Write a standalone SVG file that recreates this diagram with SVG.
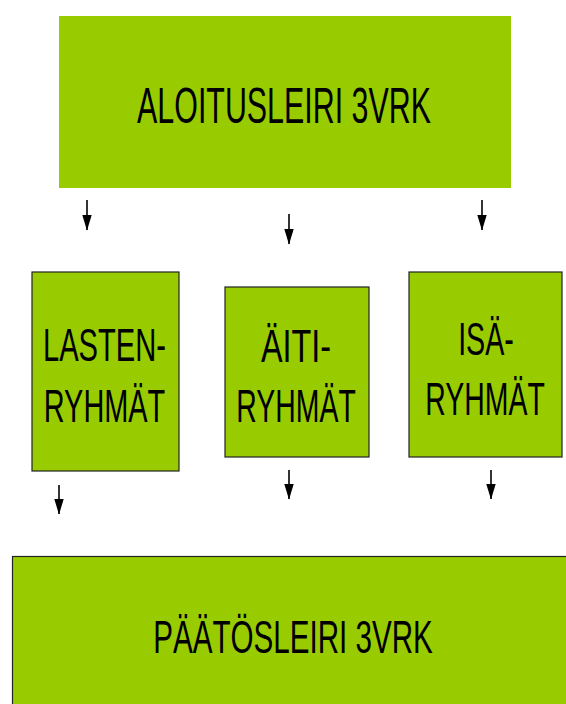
<svg xmlns="http://www.w3.org/2000/svg" width="566" height="704" viewBox="0 0 566 704">
<style>
.box{fill:#99CC00;}
.bd{stroke:#222;stroke-width:1.2;}
.t{font-family:"Liberation Sans","DejaVu Sans",sans-serif;fill:#000;text-anchor:middle;}
.c{stroke:#000;stroke-width:1.6;fill:none;}
</style>
<defs>
<marker id="ah" markerUnits="userSpaceOnUse" markerWidth="16" markerHeight="10" refX="15" refY="5" orient="auto" viewBox="0 0 16 10">
<path d="M0,0.3 L15.5,5 L0,9.7 Z" fill="#000"/>
</marker>
</defs>
<g id="aloitusleiri">
<rect class="box" x="59" y="16" width="452" height="172"/>
<text class="t" transform="translate(284,123) scale(0.608,1)" font-size="50">ALOITUSLEIRI 3VRK</text>
</g>
<g id="lastenryhmat">
<rect class="box bd" x="32" y="272" width="147" height="199"/>
<text class="t" transform="translate(104.5,361) scale(0.62,1)" font-size="47">LASTEN-</text>
<text class="t" transform="translate(104.5,422) scale(0.615,1)" font-size="47">RYHMÄT</text>
</g>
<g id="aitiryhmat">
<rect class="box bd" x="225" y="287" width="144" height="170"/>
<text class="t" transform="translate(296,362) scale(0.69,1)" font-size="47">ÄITI-</text>
<text class="t" transform="translate(296,422) scale(0.605,1)" font-size="47">RYHMÄT</text>
</g>
<g id="isaryhmat">
<rect class="box bd" x="409" y="272" width="153" height="185"/>
<text class="t" transform="translate(486,355) scale(0.61,1)" font-size="47">ISÄ-</text>
<text class="t" transform="translate(485,415) scale(0.605,1)" font-size="47">RYHMÄT</text>
</g>
<g id="paatosleiri">
<rect class="box bd" x="12.5" y="556.5" width="560" height="160"/>
<text class="t" transform="translate(293,653) scale(0.63,1)" font-size="47">PÄÄTÖSLEIRI 3VRK</text>
</g>
<g id="connectors">
<line class="c" x1="87" y1="200" x2="87" y2="230" marker-end="url(#ah)"/>
<line class="c" x1="289" y1="214" x2="289" y2="244" marker-end="url(#ah)"/>
<line class="c" x1="482" y1="200" x2="482" y2="230" marker-end="url(#ah)"/>
<line class="c" x1="59" y1="485" x2="59" y2="514" marker-end="url(#ah)"/>
<line class="c" x1="289" y1="470" x2="289" y2="499" marker-end="url(#ah)"/>
<line class="c" x1="491" y1="470" x2="491" y2="499" marker-end="url(#ah)"/>
</g>
</svg>
